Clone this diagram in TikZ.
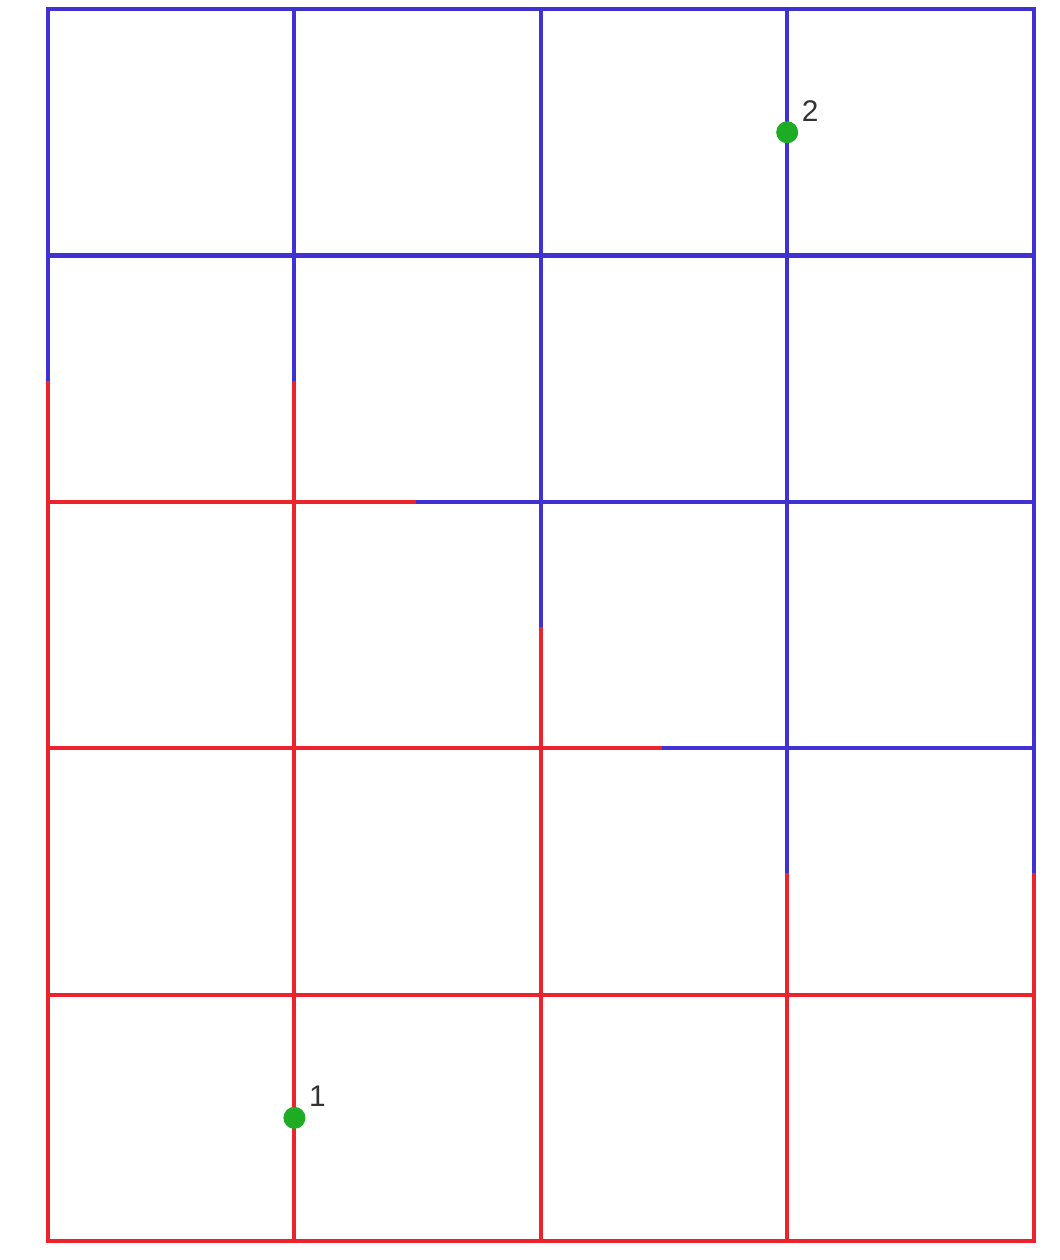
\documentclass[tikz,border=0pt]{standalone}
\usepackage{fontspec}
\setmainfont{Liberation Sans}
\usepackage{xcolor}
\usepackage{tikz}
\usetikzlibrary{positioning}

\definecolor{nearone}{RGB}{236,34,44}
\definecolor{neartwo}{RGB}{64,50,210}
\definecolor{seedgreen}{RGB}{30,172,36}
\definecolor{labelgray}{RGB}{51,51,51}

\tikzset{
  redline/.style={draw=nearone, line width=1.15pt, line cap=rect},
  blueline/.style={draw=neartwo, line width=1.15pt, line cap=rect},
  seed/.style={circle, fill=seedgreen, inner sep=0pt, minimum size=0.22cm},
  seednum/.style={font=\fontsize{8.5}{10}\selectfont, text=labelgray, inner sep=0pt, anchor=base west}
}

\begin{document}
\begin{tikzpicture}[x=2.464cm, y=2.464cm]
\useasboundingbox (-0.195,-0.077) rectangle (4.107,5.037);

% Vertical streets: red up to the split, blue above
\foreach \x/\cut in {0/3.5, 1/3.5, 2/2.5, 3/1.5, 4/1.5} {
   \draw[redline] (\x,0) -- (\x,\cut);
   \draw[blueline] (\x,\cut) -- (\x,5);
}

% Horizontal streets
\foreach \y in {0, 1} {
   \draw[redline] (0,\y) -- (4,\y);
}
\foreach \y/\cut in {2/2.5, 3/1.5} {
   \draw[redline] (0,\y) -- (\cut,\y);
   \draw[blueline] (\cut,\y) -- (4,\y);
}
\foreach \y in {4, 5} {
   \draw[blueline] (0,\y) -- (4,\y);
}

% Seed points
\node[seed] (p1) at (1,0.5) {};
\node[seed] (p2) at (3,4.5) {};
\node[seednum, xshift=0.14cm, yshift=0.11cm] (n1) at (p1) {1};
\node[seednum, xshift=0.14cm, yshift=0.11cm] (n2) at (p2) {2};
\end{tikzpicture}
\end{document}
